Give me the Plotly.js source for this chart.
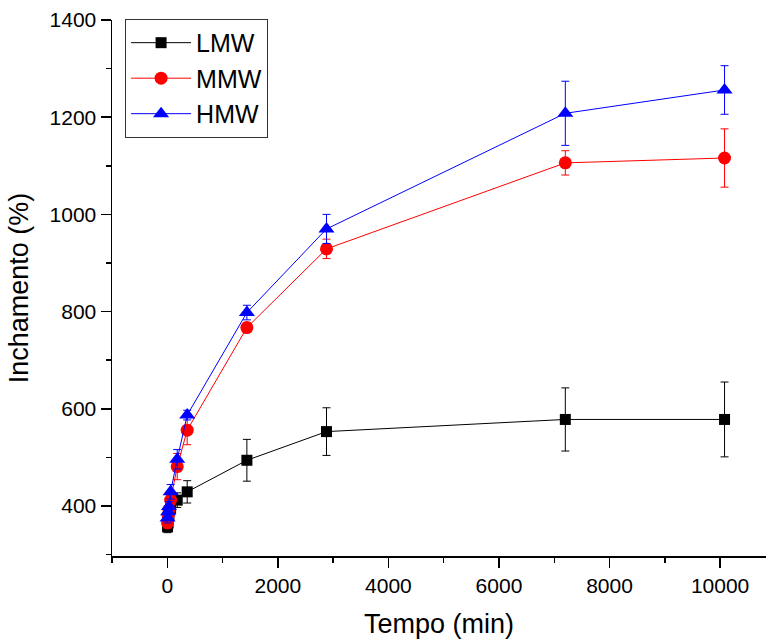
<!DOCTYPE html>
<html>
<head>
<meta charset="utf-8">
<script src="https://cdn.plot.ly/plotly-3.0.1.min.js"></script>
<style>html,body{margin:0;padding:0;background:#fff;}#chart{width:766px;height:641px;}</style>
</head>
<body>
<div id="chart"></div>
<script>
// Time (min)
const tempo = [5, 15, 30, 60, 180, 360, 1440, 2880, 7200, 10080];
// Swelling (%) per series
const lmw = [357, 365, 381, 395, 412, 429, 494, 553, 578, 578];
const lmwErr = [12, 10, 10, 10, 15, 23, 43, 49, 65, 77];
const mmw = [365, 380, 392, 412, 481, 556, 767, 929, 1106, 1116];
const mmwErr = [10, 10, 10, 12, 27, 30, 10, 20, 25, 60];
const hmw = [375, 388, 399, 429, 496, 587, 798, 970, 1208, 1256];
const hmwErr = [10, 10, 10, 15, 20, 10, 15, 30, 66, 50];
const seriesNames = ['LMW', 'MMW', 'HMW'];

const FONT = 'Liberation Sans, Arial, sans-serif';

function mk(name, y, err, color, symbol, size) {
  return {
    type: 'scatter', mode: 'lines+markers', name: name,
    x: tempo, y: y,
    line: {color: color, width: 1},
    marker: {color: color, symbol: symbol, size: size, line: {width: 0}},
    error_y: {type: 'data', array: err, visible: true, color: color, thickness: 1, width: 4}
  };
}

const data = [
  mk(seriesNames[0], lmw, lmwErr, '#000000', 'square', 11),
  mk(seriesNames[1], mmw, mmwErr, '#ff0000', 'circle', 13),
  mk(seriesNames[2], hmw, hmwErr, '#0000ff', 'triangle-up', 14)
];

const axisCommon = {
  showgrid: false, zeroline: false, showline: true, linecolor: '#000', linewidth: 1.5,
  ticks: 'outside', ticklen: 10, tickwidth: 1.5, tickcolor: '#000',
  tickfont: {family: FONT, size: 21, color: '#000'},
  tickformat: 'd',
  mirror: false
};

const layout = {
  width: 766, height: 641,
  margin: {l: 112, r: 0, t: 20, b: 85},
  paper_bgcolor: '#fff', plot_bgcolor: '#fff',
  showlegend: true,
  legend: {
    x: 0.02, y: 1.002, xanchor: 'left', yanchor: 'top',
    bordercolor: '#333', borderwidth: 1, bgcolor: '#fff',
    font: {family: FONT, size: 25, color: '#000'},
    itemwidth: 60, tracegroupgap: 0
  },
  xaxis: Object.assign({}, axisCommon, {
    range: [-1000, 10830], tickmode: 'linear', tick0: 0, dtick: 2000,
    minor: {ticks: 'outside', ticklen: 5, tickwidth: 1.5, tickcolor: '#000', dtick: 1000, tick0: 0},
    title: {text: 'Tempo (min)', font: {family: FONT, size: 27, color: '#000'}, standoff: 18}
  }),
  yaxis: Object.assign({}, axisCommon, {
    range: [297, 1400], tickmode: 'linear', tick0: 0, dtick: 200,
    minor: {ticks: 'outside', ticklen: 5, tickwidth: 1.5, tickcolor: '#000', dtick: 100, tick0: 0},
    title: {text: 'Inchamento (%)', font: {family: FONT, size: 27, color: '#000'}, standoff: 13}
  })
};

Plotly.newPlot('chart', data, layout, {displayModeBar: false, staticPlot: true});
</script>
</body>
</html>
